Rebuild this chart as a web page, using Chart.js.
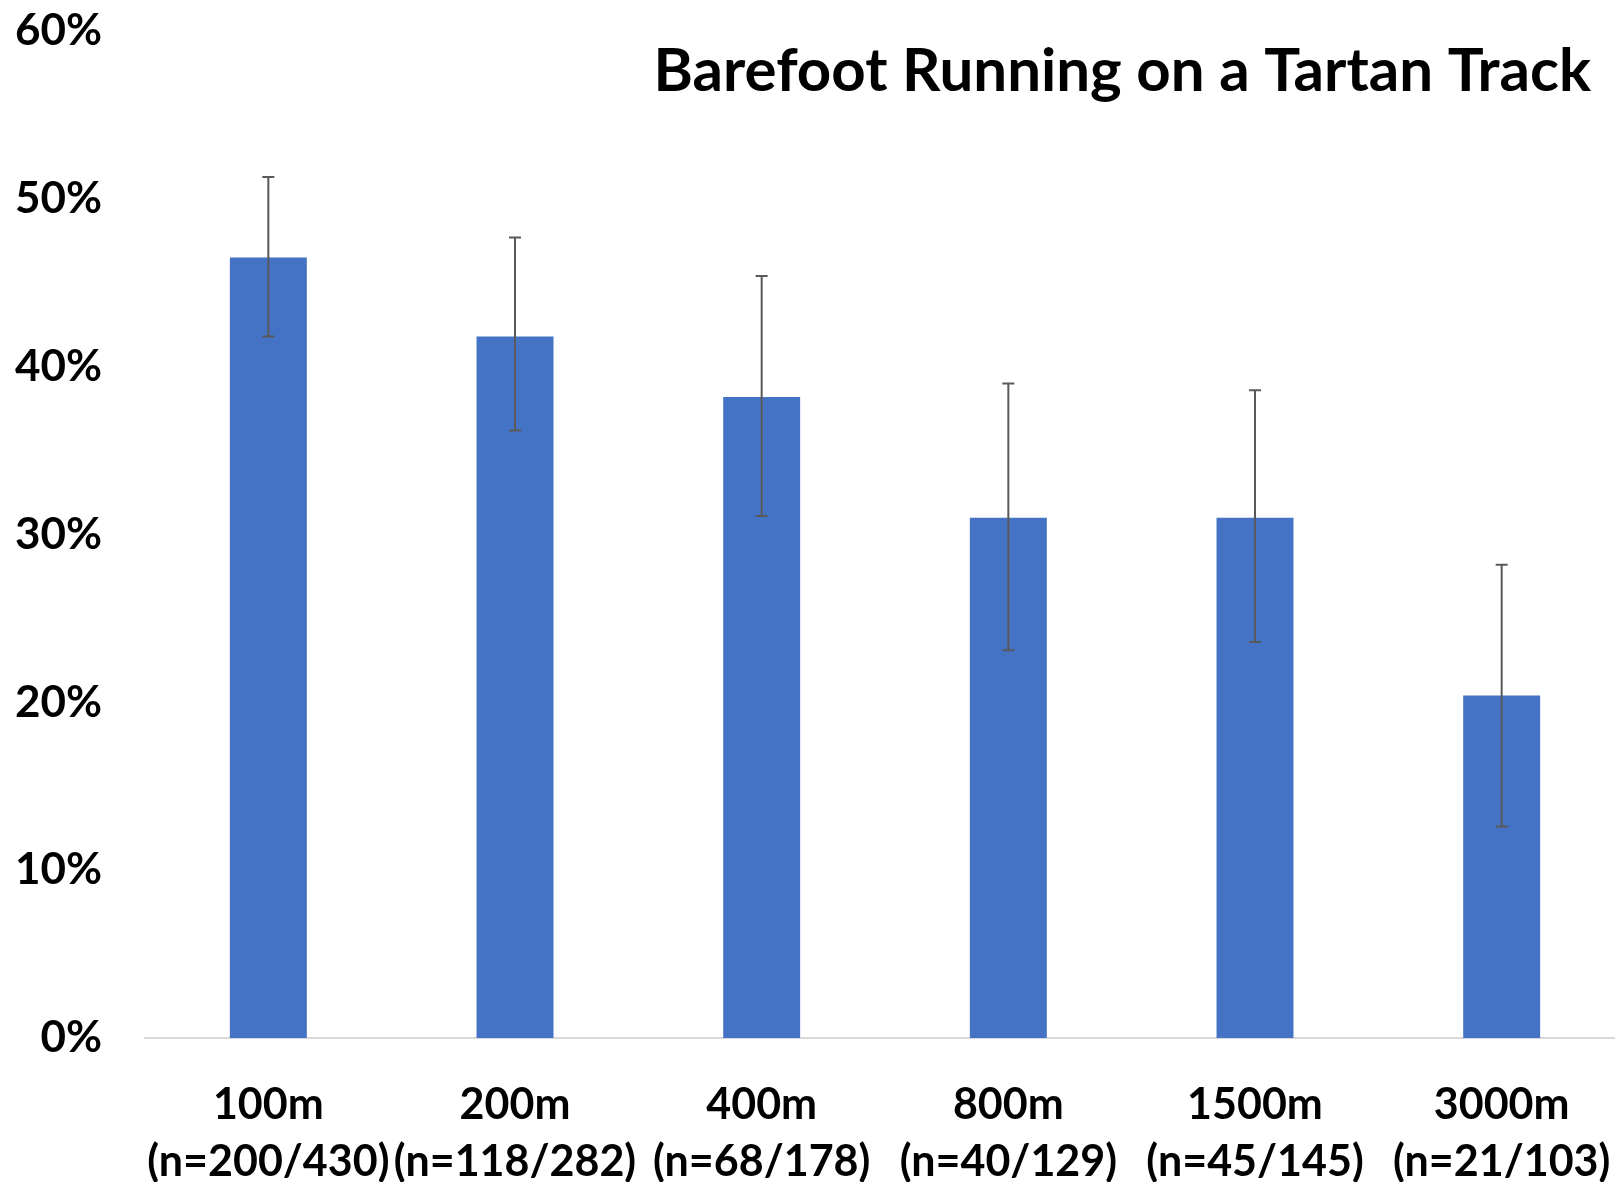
<!DOCTYPE html>
<html>
<head>
<meta charset="utf-8">
<script src="https://cdn.jsdelivr.net/npm/chart.js@4/dist/chart.umd.min.js"></script>
<style>
  html, body { margin: 0; padding: 0; background: #fff; overflow: hidden; }
  #wrap { width: 1625px; height: 1182px; position: relative; }
</style>
</head>
<body>
<div id="wrap"><canvas id="chart"></canvas></div>
<script>
// Data
const distances = ['100m', '200m', '400m', '800m', '1500m', '3000m'];
const sampleSizes = ['(n=200/430)', '(n=118/282)', '(n=68/178)', '(n=40/129)', '(n=45/145)', '(n=21/103)'];
const shares = [46.5, 41.8, 38.2, 31.0, 31.0, 20.4];
const errLow = [41.8, 36.2, 31.1, 23.1, 23.6, 12.6];
const errHigh = [51.3, 47.7, 45.4, 39.0, 38.6, 28.2];
const yTicks = [0, 10, 20, 30, 40, 50, 60];

const FONT = 'Lato, "Open Sans", sans-serif';

// Error bars drawn from the y scale
const errorBars = {
    id: 'errorBars',
    afterDatasetsDraw(chart) {
        const { ctx } = chart;
        const y = chart.scales.y;
        const meta = chart.getDatasetMeta(0);
        ctx.save();
        ctx.strokeStyle = '#595959';
        ctx.lineWidth = 2;
        meta.data.forEach((bar, i) => {
            const x = bar.x;
            const top = y.getPixelForValue(errHigh[i]);
            const bot = y.getPixelForValue(errLow[i]);
            ctx.beginPath();
            ctx.moveTo(x, top); ctx.lineTo(x, bot);
            ctx.moveTo(x - 6, top); ctx.lineTo(x + 6, top);
            ctx.moveTo(x - 6, bot); ctx.lineTo(x + 6, bot);
            ctx.stroke();
        });
        ctx.restore();
    }
};

// Title sits inside the plot, top right
const titlePlugin = {
    id: 'cornerTitle',
    afterDraw(chart) {
        const { ctx } = chart;
        ctx.save();
        ctx.font = 'bold 60px ' + FONT;
        ctx.fillStyle = '#000';
        ctx.textAlign = 'right';
        ctx.textBaseline = 'middle';
        ctx.fillText('Barefoot Running on a Tartan Track', 1591, 72);
        ctx.restore();
    }
};

new Chart(document.getElementById('chart'), {
    type: 'bar',
    data: {
        labels: distances.map((d, i) => [d, sampleSizes[i]]),
        datasets: [{
            data: shares,
            backgroundColor: '#4472C4',
            borderWidth: 0,
            categoryPercentage: 1,
            barPercentage: 0.312
        }]
    },
    options: {
        responsive: true,
        maintainAspectRatio: false,
        animation: false,
        layout: { padding: { top: 31, right: 0, left: 0, bottom: 0 } },
        plugins: {
            legend: { display: false },
            tooltip: { enabled: false }
        },
        scales: {
            y: {
                min: 0,
                max: 60,
                afterFit(scale) {
                    scale.width = 145;
                    scale.paddingTop = 0;
                    scale.paddingBottom = 0;
                },
                afterBuildTicks(scale) { scale.ticks = yTicks.map(v => ({ value: v })); },
                grid: { display: false, drawTicks: false },
                border: { display: false },
                ticks: {
                    padding: 43,
                    color: '#000',
                    font: { family: FONT, size: 44, weight: 'bold' },
                    callback: v => v + '%'
                }
            },
            x: {
                afterFit(scale) {
                    scale.height = 144;
                    scale.paddingLeft = 0;
                    scale.paddingRight = 0;
                },
                grid: { display: false, drawTicks: false },
                border: { display: true, color: '#d9d9d9', width: 2 },
                ticks: {
                    padding: 38,
                    color: '#000',
                    maxRotation: 0,
                    autoSkip: false,
                    font: { family: FONT, size: 43, weight: 'bold', lineHeight: 1.34 }
                }
            }
        }
    },
    plugins: [errorBars, titlePlugin]
});
</script>
</body>
</html>
